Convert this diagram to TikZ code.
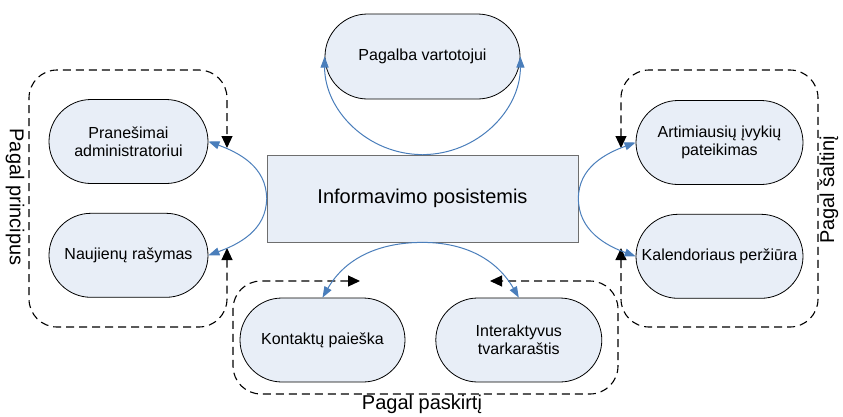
\documentclass[tikz,border=0pt]{standalone}
\usepackage{fontspec}
\setmainfont{Liberation Sans}
\usetikzlibrary{arrows.meta,positioning,shapes.misc}
\definecolor{boxfill}{RGB}{232,238,247}
\definecolor{linkblue}{RGB}{74,126,187}
\definecolor{rimgray}{RGB}{110,110,110}

\begin{document}
\begin{tikzpicture}[
  x=1pt, y=-1pt,
  font=\fontsize{16}{18}\selectfont,
  sub/.style={draw, rounded rectangle, fill=boxfill, line width=0.8pt, align=center, minimum width=165pt, minimum height=84pt, inner sep=2pt},
  core/.style={draw=rimgray, fill=boxfill, line width=0.8pt, minimum width=311pt, minimum height=87pt, font=\fontsize{20}{24}\selectfont},
  link/.style={draw=linkblue, line width=1pt, -{Triangle[length=11pt,width=8pt]}},
  grp/.style={draw, line width=1.1pt, dash pattern=on 8pt off 5pt, rounded corners=28pt, {Triangle[length=12pt,width=11pt]}-{Triangle[length=12pt,width=11pt]}},
  grplabel/.style={font=\fontsize{20}{24}\selectfont},
]
\useasboundingbox (0,0) rectangle (843,416);
% central subsystem and the item on top
\node[core] (main) at (422.5,198.5) {Informavimo posistemis};
\node[sub, minimum width=199pt, minimum height=85pt] (pagalba) at (422.5,56.5) {Pagalba vartotojui};
% left group: by principle
\node[sub, minimum width=163pt] (pranesimai) at (128.5,141.5) {Pranešimai\\administratoriui};
\node[sub, minimum width=163pt, below=29pt of pranesimai] (naujienos) {Naujienų rašymas};
% right group: by source
\node[sub, minimum width=171pt] (artimiausi) at (719.5,142.5) {Artimiausių įvykių\\pateikimas};
\node[sub, minimum width=171pt, below=29pt of artimiausi] (kalendorius) {Kalendoriaus peržiūra};
% bottom group: by purpose
\node[sub, minimum width=169pt] (kontaktai) at (322.5,340) {Kontaktų paieška};
\node[sub, minimum width=170pt, right=30pt of kontaktai] (tvarkarastis) {Interaktyvus\\tvarkaraštis};
% group frames (open, with tips at the gap)
\draw[grp] (227,248) -- (227,327) -- (29,327) -- (29,70) -- (227,70) -- (227,148);
\draw[grp] (621,148) -- (621,70) -- (818,70) -- (818,327) -- (621,327) -- (621,248);
\draw[grp] (360,281) -- (233,281) -- (233,394) -- (618,394) -- (618,281) -- (490,281);
\node[grplabel, rotate=-90] (lblprincipus) at (15,197) {Pagal principus};
\node[grplabel, rotate=90] (lblsaltini) at (829,190) {Pagal šaltinį};
\node[grplabel] (lblpaskirti) at (422,404) {Pagal paskirtį};
% connectors from the subsystem
\draw[link] (main.north) to[out=180,in=-90] (pagalba.west);
\draw[link] (main.north) to[out=0,in=-90] (pagalba.east);
\draw[link] (main.west) to[out=90,in=-20] (pranesimai.east);
\draw[link] (main.west) to[out=-90,in=20] (naujienos.east);
\draw[link] (main.east) to[out=90,in=200] (artimiausi.west);
\draw[link] (main.east) to[out=-90,in=160] (kalendorius.west);
\draw[link] (main.south) to[out=180,in=60] (kontaktai.north);
\draw[link] (main.south) to[out=0,in=120] (tvarkarastis.north);
\end{tikzpicture}
\end{document}
